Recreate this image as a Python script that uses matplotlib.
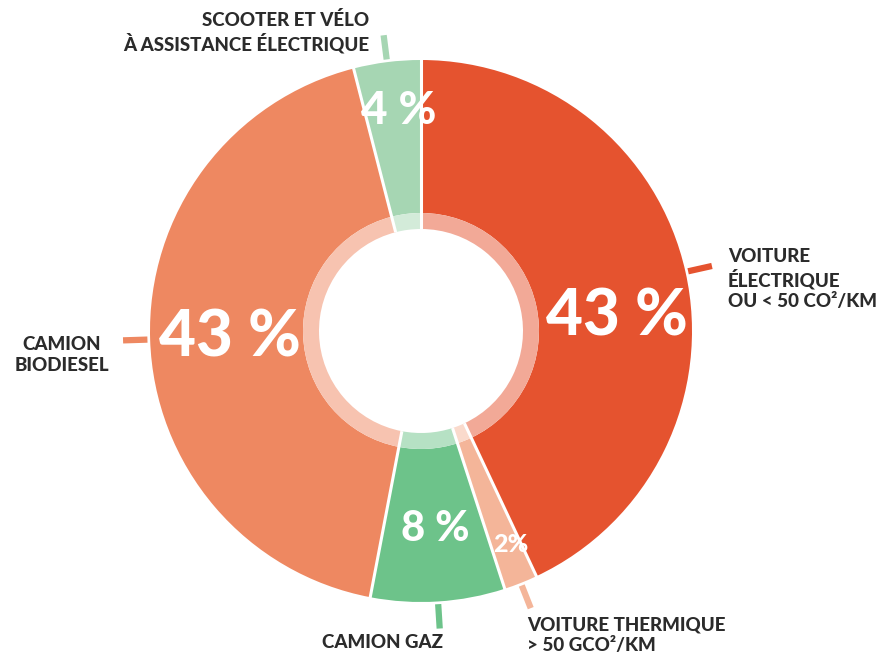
import numpy as np
import matplotlib.pyplot as plt
from matplotlib.colors import to_rgb

# clockwise from 12 o'clock
labels = ['VOITURE\nÉLECTRIQUE\nOU < 50 CO²/KM', 'VOITURE THERMIQUE\n> 50 GCO²/KM',
          'CAMION GAZ', 'CAMION\nBIODIESEL', 'SCOOTER ET VÉLO\nÀ ASSISTANCE ÉLECTRIQUE']
values = [43, 2, 8, 43, 4]
pct_text = ['43 %', '2%', '8 %', '43 %', '4 %']
colors = ['#E5532F', '#F4B599', '#6DC38A', '#EE8861', '#A6D6B3']

plt.rcParams['font.family'] = ['Lato', 'DejaVu Sans']

W, H = 885, 655
cx, cy, R = 421, 331, 271  # pixels

fig = plt.figure(figsize=(W / 100, H / 100), dpi=100)
ax = fig.add_axes([0, 0, 1, 1])
ax.axis('off')

r_in, r_light = 118 / R, 102 / R
light = [tuple(0.5 * c + 0.5 for c in to_rgb(col)) for col in colors]

wedges, _ = ax.pie(values, colors=colors, startangle=90, counterclock=False,
                   radius=1, wedgeprops=dict(width=1 - r_in, linewidth=0))
ax.pie(values, colors=light, startangle=90, counterclock=False,
       radius=r_in, wedgeprops=dict(width=r_in - r_light, linewidth=0))
ax.set_xlim(-cx / R, (W - cx) / R)
ax.set_ylim(-(H - cy) / R, cy / R)
ax.set_aspect('equal')

# white separators between slices
for w in wedges:
    a = np.deg2rad(w.theta1)
    ax.plot([r_light * np.cos(a), 1.005 * np.cos(a)], [r_light * np.sin(a), 1.005 * np.sin(a)],
            color='white', lw=2.2, solid_capstyle='butt')

# leader lines at each wedge's middle angle
for w, col in zip(wedges, colors):
    mid = np.deg2rad((w.theta1 + w.theta2) / 2)
    x0, y0 = 1.01 * np.cos(mid), 1.01 * np.sin(mid)
    x1, y1 = 1.10 * np.cos(mid), 1.10 * np.sin(mid)
    ax.plot([x0, x1], [y0, y1], color=col, lw=4.5, solid_capstyle='butt', clip_on=False)

def px(x, y):
    return (x - cx) / R, (cy - y) / R

# percentages
pct_pos = [(617, 317), (511, 545), (435, 529), (230, 338), (399, 111)]
pct_size = [46, 18, 30, 46, 33]
for t, (x, y), s in zip(pct_text, pct_pos, pct_size):
    ax.text(*px(x, y), t, color='white', fontsize=s, fontweight='black',
            ha='center', va='center')

# category labels
lab_pos = [(728, 279, 'left'), (527, 635, 'left'), (383, 643, 'center'),
           (62, 355, 'center'), (369, 32, 'right')]
for t, (x, y, ha) in zip(labels, lab_pos):
    ax.text(*px(x, y), t, color='#2B2B2B', fontsize=13.5, fontweight='black',
            ha=ha, va='center', multialignment=ha, linespacing=1.25)

fig.savefig('out.png', dpi=100)
